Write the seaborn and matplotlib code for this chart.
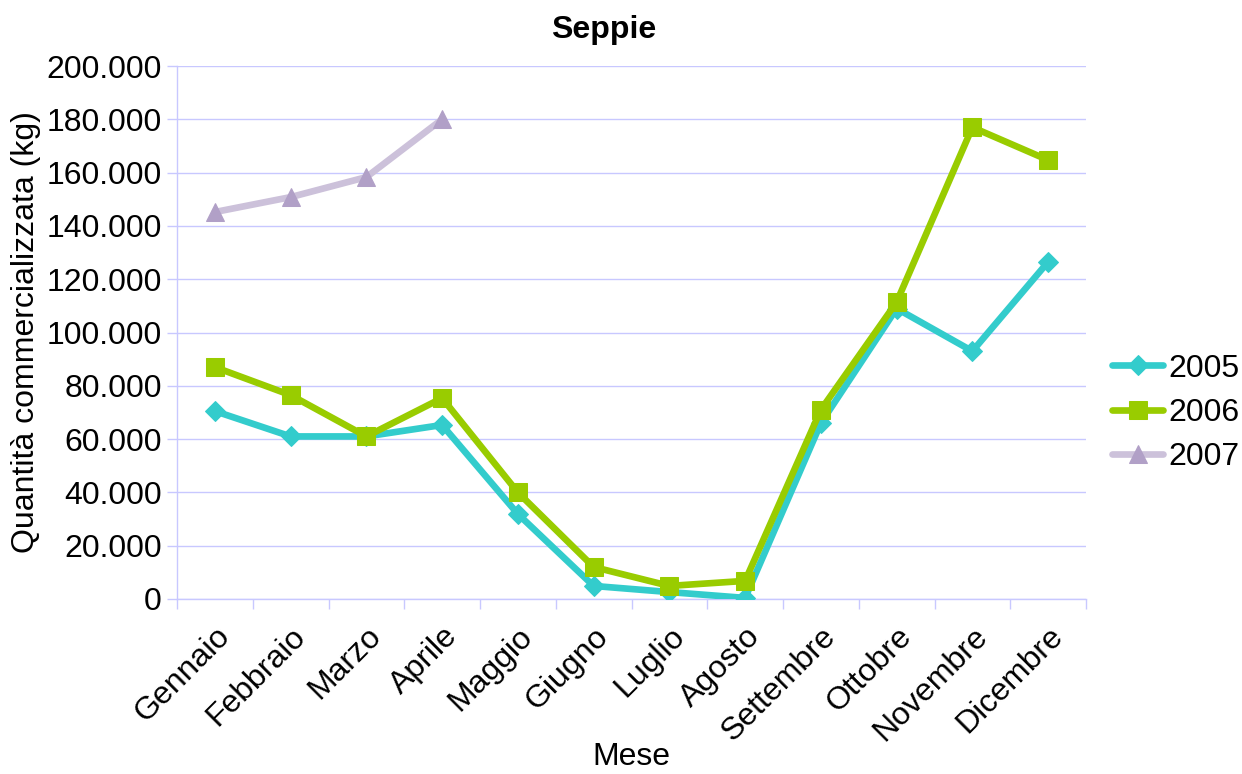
import matplotlib
matplotlib.use("Agg")
import matplotlib.pyplot as plt
import matplotlib.ticker as mticker
import seaborn as sns
import pandas as pd
import numpy as np

mesi = ["Gennaio", "Febbraio", "Marzo", "Aprile", "Maggio", "Giugno",
        "Luglio", "Agosto", "Settembre", "Ottobre", "Novembre", "Dicembre"]
v2005 = [70500, 61000, 61000, 65300, 31900, 4900, 2600, 400, 66000, 109000, 93000, 126500]
v2006 = [87000, 76500, 61000, 75400, 40000, 12000, 4900, 6800, 71000, 111400, 177000, 164700]
v2007 = [145200, 150800, 158300, 180000]

serie = ["2005", "2006", "2007"]
line_colors = ["#33CCCC", "#99CC00", "#CCC1DA"]
marker_colors = ["#33CCCC", "#99CC00", "#B1A0C7"]
markers = ["D", "s", "^"]
msizes = [10, 13, 13]

sns.set_theme(style="white")
plt.rcParams["font.family"] = ["Liberation Sans", "DejaVu Sans"]
plt.rcParams["text.color"] = "black"
plt.rcParams["axes.labelcolor"] = "black"

FS = 23
fig = plt.figure(figsize=(12.42, 7.74), dpi=100)
ax = fig.add_axes([177/1242, 1-599/774, (1086-177)/1242, (599-66)/774])

grid_c = "#C8C8FF"
for i, (name, vals) in enumerate(zip(serie, [v2005, v2006, v2007])):
    df = pd.DataFrame({"x": np.arange(len(vals)), "y": vals})
    sns.lineplot(data=df, x="x", y="y", ax=ax, color=line_colors[i], lw=4.8,
                 marker=markers[i], markersize=msizes[i],
                 markerfacecolor=marker_colors[i], markeredgecolor=marker_colors[i],
                 label=name, zorder=3 + i)

ax.set_xlim(-0.5, 11.5)
ax.set_ylim(0, 200000)
ax.set_yticks(np.arange(0, 200001, 20000))
ax.yaxis.set_major_formatter(mticker.FuncFormatter(lambda v, p: f"{int(v):,}".replace(",", ".")))
ax.grid(axis="y", color=grid_c, lw=1)
ax.set_axisbelow(True)

ax.set_xticks(np.arange(-0.5, 12, 1))
ax.set_xticklabels([])
ax.set_xticks(np.arange(12), minor=True)
ax.set_xticklabels(mesi, minor=True, rotation=45, ha="right", rotation_mode="anchor", fontsize=FS)
ax.tick_params(axis="x", which="major", length=7, color=grid_c, width=1, direction="out")
ax.tick_params(axis="x", which="minor", length=0, pad=16, labelcolor="black")
ax.tick_params(axis="y", length=7, color=grid_c, width=1, direction="out", labelsize=FS, pad=4,
               labelcolor="black")
ax.xaxis.set_tick_params(bottom=True, which="both")
ax.yaxis.set_tick_params(left=True)

for s in ["top", "right"]:
    ax.spines[s].set_visible(False)
for s in ["left", "bottom"]:
    ax.spines[s].set_color(grid_c)
    ax.spines[s].set_linewidth(1)

ax.set_xlabel("")
fig.text(631/1242, 2/774, "Mese", fontsize=FS, ha="center", va="bottom")
ax.set_ylabel("Quantità commercializzata (kg)", fontsize=FS, labelpad=4)
fig.text(604/1242, 1-30/774, "Seppie", fontsize=23, fontweight="bold", ha="center", va="center")

handles, labels = ax.get_legend_handles_labels()
if ax.legend_:
    ax.legend_.remove()
fig.legend(handles, labels, loc="center left", bbox_to_anchor=(1112/1242, 1-413/774),
           frameon=False, fontsize=FS, handlelength=1.6, labelspacing=0.45, handletextpad=0.15,
           borderpad=0, borderaxespad=0)

fig.savefig("out.png", dpi=100)
